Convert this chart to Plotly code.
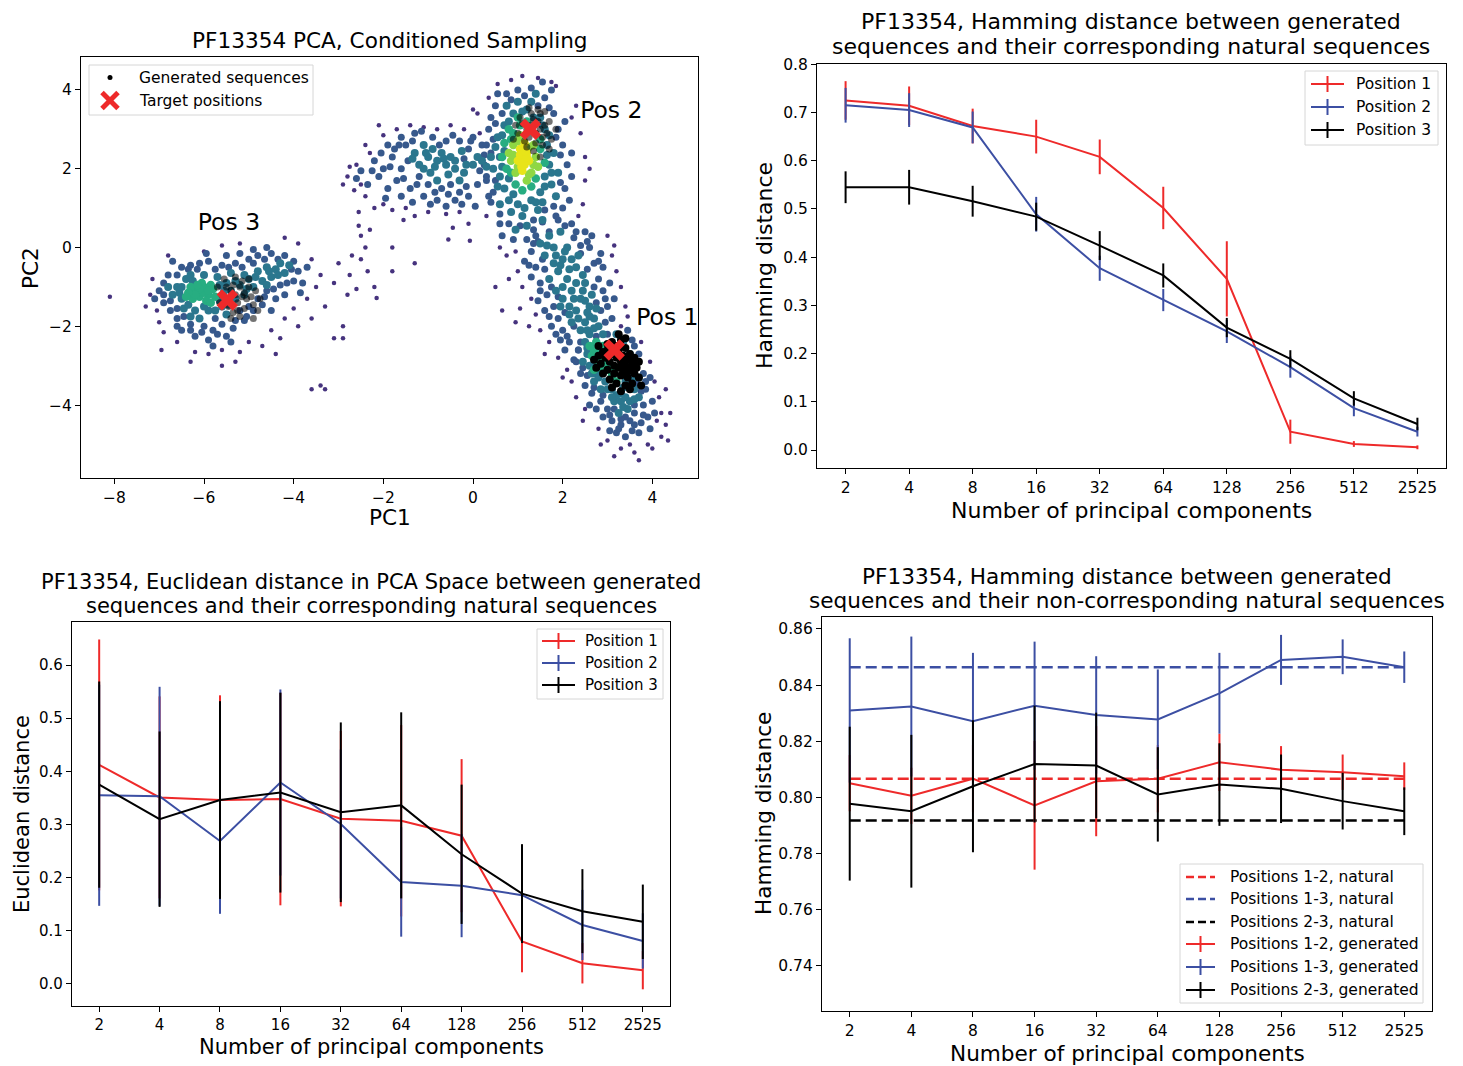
import plotly.graph_objects as go

FONT = "DejaVu Sans"
W, H = 1463, 1066
OFF = 8                      # browser body margin compensation
FW, FH = W - OFF, H - OFF    # figure size in px

# ------------------------------------------------------------------ DATA
npc_labels = ["2", "4", "8", "16", "32", "64", "128", "256", "512", "2525"]

# Hamming distance, generated vs corresponding natural sequences
ham_corr_p1 = [0.725, 0.714, 0.672, 0.650, 0.608, 0.502, 0.355, 0.038, 0.0125, 0.0056]
ham_corr_p1_err = [0.040, 0.040, 0.036, 0.035, 0.036, 0.044, 0.078, 0.025, 0.006, 0.004]
ham_corr_p2 = [0.715, 0.705, 0.669, 0.489, 0.377, 0.311, 0.246, 0.172, 0.087, 0.038]
ham_corr_p2_err = [0.036, 0.035, 0.033, 0.036, 0.026, 0.023, 0.024, 0.022, 0.017, 0.010]
ham_corr_p3 = [0.545, 0.545, 0.516, 0.484, 0.424, 0.362, 0.254, 0.189, 0.107, 0.054]
ham_corr_p3_err = [0.033, 0.036, 0.032, 0.029, 0.030, 0.025, 0.020, 0.018, 0.015, 0.013]

# Euclidean distance in PCA space
euc_p1 = [0.412, 0.351, 0.346, 0.348, 0.311, 0.307, 0.279, 0.080, 0.039, 0.026]
euc_p1_err = [0.236, 0.190, 0.197, 0.200, 0.165, 0.180, 0.144, 0.058, 0.038, 0.036]
euc_p2 = [0.355, 0.353, 0.269, 0.379, 0.301, 0.192, 0.185, 0.167, 0.111, 0.081]
euc_p2_err = [0.208, 0.206, 0.137, 0.175, 0.140, 0.103, 0.097, 0.080, 0.066, 0.052]
euc_p3 = [0.375, 0.310, 0.346, 0.360, 0.323, 0.336, 0.244, 0.170, 0.137, 0.117]
euc_p3_err = [0.194, 0.165, 0.186, 0.188, 0.169, 0.175, 0.131, 0.093, 0.079, 0.070]

# Hamming distance, generated vs non-corresponding natural sequences
ham_nat_12 = 0.8067
ham_nat_13 = 0.8464
ham_nat_23 = 0.7918
ham_gen_12 = [0.8051, 0.8006, 0.8067, 0.7972, 0.8058, 0.8067, 0.8125, 0.8099, 0.8090, 0.8076]
ham_gen_12_err = [0.010, 0.010, 0.012, 0.0229, 0.0196, 0.012, 0.0102, 0.0084, 0.0063, 0.0049]
ham_gen_13 = [0.8310, 0.8324, 0.8272, 0.8327, 0.8294, 0.8278, 0.8371, 0.8490, 0.8501, 0.8464]
ham_gen_13_err = [0.0257, 0.0249, 0.0243, 0.0228, 0.0209, 0.0178, 0.0144, 0.0089, 0.0062, 0.0056]
ham_gen_23 = [0.7978, 0.7951, 0.8040, 0.8119, 0.8114, 0.8011, 0.8046, 0.8031, 0.7987, 0.7951]
ham_gen_23_err = [0.0274, 0.0272, 0.0235, 0.0208, 0.0188, 0.0168, 0.0147, 0.0122, 0.0101, 0.0085]

# PCA scatter (PC1,PC2) of natural sequences, grouped by estimated density level
pca_lvl0 = (
    "-8.1,-1.25 -7.2,-1.2 -7.15,-0.8 -7.05,-1.6 -7.0,-1.9 -6.9,-2.15 -6.6,-2.4 -6.2,-2.65 -5.9,-2.7 "
    "-5.6,-2.6 -5.2,-2.65 -5.0,-2.4 -4.7,-2.5 -4.5,-2.1 -4.2,-1.8 -4.0,-1.55 -3.7,-1.3 -3.6,-1.8 "
    "-3.9,-2.0 -3.5,-1.0 -3.6,-0.3 -3.9,0.1 -4.2,0.25 -5.2,0.1 -5.6,0.05 -6.0,-0.1 -6.8,-0.2 -3.4,-0.7 "
    "-3.3,-1.5 -3.1,-2.3 -2.9,-2.0 -3.1,-0.9 -3.0,-0.4 -2.8,-1.2 -2.9,-2.3 -6.3,-2.9 -5.6,-3.0 "
    "-5.3,-2.9 -7.3,-1.5 -6.95,-2.6 -4.4,-2.7 -3.6,-3.6 -3.4,-3.5 -3.3,-3.6 -4.3,-2.3 "
    "-2.5,-0.3 -2.4,0.0 -2.5,0.3 -2.3,0.45 -2.55,0.55 -2.35,-0.6 -2.2,-1.0 -2.15,-1.28 -2.6,-1.05 "
    "-1.8,-0.6 -1.8,0.0 -1.3,-0.4 -0.55,0.2 -0.07,0.17 -2.75,-0.7 -2.7,-0.2 "
    "-2.8,1.8 -2.75,2.05 -2.6,2.1 -2.5,1.6 -2.4,1.3 -2.65,1.45 -2.3,2.4 -2.2,1.0 -2.0,1.1 -1.8,0.95 "
    "-1.5,1.0 -1.3,0.8 -1.0,0.9 -0.6,0.85 -0.3,0.9 -1.7,3.0 -1.4,3.1 -1.1,3.05 -0.8,3.0 -0.5,3.1 "
    "-0.2,3.0 -2.0,2.85 -2.4,2.6 -2.55,0.9 -0.1,0.6 0.3,0.8 -2.9,1.6 -0.45,0.5 -1.55,0.7 -2.1,3.1 "
    "1.1,4.35 1.45,4.3 1.75,4.2 0.35,3.8 0.1,3.4 0.15,2.9 2.3,3.6 2.4,2.9 2.5,2.3 2.5,1.7 2.45,1.1 "
    "0.0,3.5 0.55,4.15 1.85,4.1 2.2,3.3 0.85,4.25 2.35,0.8 2.6,2.0 0.6,0.0 0.75,-0.2 "
    "0.95,-0.1 1.0,-0.6 1.1,-1.0 1.3,-1.3 1.4,-1.7 1.5,-2.1 1.7,-2.4 1.9,-2.8 2.1,-3.1 3.0,0.3 "
    "3.1,-0.2 3.2,-0.6 3.3,-1.0 3.4,-1.5 3.3,-2.0 0.5,-1.0 0.8,-0.8 1.05,-1.55 1.25,-2.0 3.15,0.05 "
    "3.45,-1.75 0.65,-1.6 1.6,-2.7 2.0,-3.3 0.95,-1.9 "
    "2.5,-4.1 2.8,-4.6 3.0,-4.9 3.3,-5.1 3.6,-5.2 3.7,-5.4 4.0,-5.1 4.2,-4.8 4.35,-4.9 4.3,-4.5 "
    "4.2,-4.2 4.15,-3.8 4.05,-3.4 4.3,-3.6 3.95,-2.9 3.75,-2.4 2.2,-3.4 2.45,-4.4 2.85,-5.0 3.5,-5.0 "
    "3.9,-5.0 4.1,-4.4 2.3,-3.8 3.15,-5.3 4.4,-4.2"
)
pca_lvl1 = (
    "-7.0,-1.1 -6.9,-1.4 -6.8,-0.7 -6.9,-0.9 -6.75,-1.6 -6.6,-1.8 -6.5,-0.5 -6.3,-0.45 -6.1,-0.4 "
    "-5.9,-0.35 -5.6,-0.45 -5.3,-0.4 -5.0,-0.3 -4.8,-0.2 -4.5,-0.15 -4.2,-0.2 -4.0,-0.35 -3.9,-0.6 "
    "-4.0,-0.85 -4.3,-0.95 -4.6,-1.1 -4.8,-1.3 -5.0,-1.5 -5.2,-1.6 -5.3,-1.85 -5.6,-1.95 -5.8,-2.1 "
    "-6.0,-2.0 -6.3,-1.95 -6.5,-2.1 -5.5,-2.25 -5.9,-2.35 -6.2,-2.25 -4.4,-1.3 -4.2,-1.2 -3.8,-0.9 "
    "-3.7,-0.5 -4.6,0.0 -4.9,-0.05 -5.2,-0.15 -5.5,-0.2 -6.7,-0.35 -7.1,-1.3 -5.1,-1.85 -4.5,-1.6 "
    "-3.85,-1.15 -5.75,-1.8 -6.45,-1.75 -4.7,-1.45 -5.95,-0.15 "
    "-6.9,-1.2 -6.75,-1.35 -6.6,-1.55 -6.6,-0.7 -6.35,-0.55 -6.15,-0.55 -5.75,-0.55 -5.45,-0.5 "
    "-5.15,-0.5 -4.9,-0.4 -4.65,-0.3 -4.35,-0.3 -4.05,-0.55 -4.15,-0.9 -4.45,-1.05 -4.65,-1.25 "
    "-4.9,-1.6 -5.05,-1.75 -5.35,-2.05 -5.7,-2.2 -6.05,-2.15 -6.3,-2.1 -6.6,-2.0 -5.8,-2.5 -5.4,-2.4 "
    "-1.8,2.3 -1.6,2.0 -1.5,2.6 -1.7,1.7 -1.4,1.5 -1.2,1.8 -1.0,1.6 -0.7,1.5 -0.5,1.6 -0.3,1.4 "
    "0.1,1.6 0.3,1.8 0.4,2.4 0.2,2.6 -0.1,2.5 -0.3,2.7 -0.6,2.7 -0.9,2.8 -1.3,2.9 -1.6,2.8 -1.9,2.6 "
    "-2.0,2.0 -2.1,1.8 -1.9,1.5 -1.6,1.3 -1.1,1.3 -0.8,1.2 -0.4,1.2 -0.1,1.3 0.0,2.8 -0.2,2.25 "
    "-1.45,2.2 -2.2,2.2 -2.35,1.6 0.35,1.3 "
    "-1.75,2.5 -1.55,1.75 -1.35,2.7 -1.25,1.6 -0.85,1.4 -0.55,1.35 -0.15,1.55 0.15,1.95 0.25,2.35 "
    "-0.05,2.7 -0.45,2.85 -0.75,2.6 -1.15,2.95 -1.85,2.05 -2.05,2.4 -2.25,1.95 -1.95,1.25 -1.35,1.15 "
    "-0.95,1.1 -0.6,1.05 -0.25,1.1 0.05,1.05 -1.65,2.6 -2.5,1.95 -2.6,1.75 "
    "0.3,2.6 0.35,3.0 0.4,3.3 0.5,3.6 0.75,3.9 1.0,4.0 1.3,4.05 1.6,3.8 1.8,3.4 1.9,3.0 2.0,2.6 "
    "2.1,2.1 2.05,1.5 2.0,1.0 1.7,0.4 1.4,0.3 0.9,0.2 0.6,0.6 0.45,1.4 0.3,1.7 0.25,2.1 2.2,2.4 "
    "2.15,1.2 1.9,0.7 0.55,3.9 1.75,4.0 2.05,3.2 0.65,0.3 2.2,1.8 1.55,4.2 "
    "0.45,2.75 0.5,3.15 0.65,3.4 0.85,3.75 1.15,3.85 1.45,3.6 1.7,3.55 1.85,2.8 1.95,2.35 1.95,1.65 "
    "1.8,1.05 1.6,0.95 1.35,0.7 1.05,0.55 0.8,0.6 0.6,0.85 0.5,1.7 0.4,1.15 "
    "1.2,0.2 1.3,-0.1 1.4,-0.5 1.5,-0.9 1.65,-1.2 1.8,-1.5 1.9,-1.8 2.0,-2.1 2.15,-2.4 2.35,-2.6 "
    "2.5,0.4 2.6,0.0 2.7,-0.4 2.8,-0.8 2.9,-1.1 3.0,-1.5 3.1,-1.8 3.0,-2.2 2.55,0.15 1.35,0.45 "
    "2.2,0.6 1.85,0.8 2.75,-1.4 1.6,-1.6 2.05,-2.6 2.85,-0.15 1.15,-0.35 3.05,-0.9 1.75,-2.0 "
    "2.95,-1.9 2.25,0.25 1.55,-0.3 2.4,0.05 2.25,-2.85 1.45,-1.35 2.65,-2.5 1.95,-2.35 3.15,-1.3 "
    "2.9,-0.5 1.3,-0.75 "
    "1.45,0.15 1.6,-0.55 1.75,-1.0 1.9,-1.25 2.05,-1.65 2.25,-2.0 2.4,-2.4 2.75,-2.25 2.85,-1.6 "
    "2.7,-1.0 2.55,-0.55 2.4,-0.15 2.3,0.4 2.05,0.55 1.55,0.65 1.35,0.1 1.25,-0.45 1.5,-1.1 1.7,-1.75 "
    "1.85,-2.2 2.1,-2.25 2.95,-1.3 2.8,-0.35 2.65,0.3 "
    "2.4,-3.2 2.5,-3.5 2.65,-3.7 2.85,-3.9 3.0,-4.1 3.1,-4.4 3.3,-4.5 3.5,-4.4 3.6,-4.2 3.8,-4.0 "
    "3.85,-3.6 3.8,-3.2 3.7,-2.9 3.6,-2.5 3.45,-2.1 3.9,-4.3 3.95,-4.6 3.7,-4.7 3.4,-4.8 3.2,-4.7 "
    "2.9,-4.3 2.3,-2.9 2.35,-2.6 3.75,-4.45 3.55,-4.65 4.0,-3.9 3.95,-3.3 2.6,-4.0 3.05,-4.65 4.05,-4.2 "
    "2.45,-3.05 2.55,-3.25 2.7,-3.55 2.9,-3.75 3.15,-4.1 3.4,-4.3 3.6,-4.0 3.75,-3.65 3.85,-3.4 "
    "3.65,-3.45 3.8,-4.25 3.3,-4.35 3.05,-4.25 3.55,-2.35 3.7,-2.7 2.75,-4.1 3.25,-4.6 3.6,-4.5"
)
pca_lvl2 = (
    "-6.6,-1.0 -6.5,-1.3 -6.4,-0.8 -6.7,-1.2 -5.5,-0.9 -5.4,-1.1 -5.6,-1.5 -5.9,-1.6 -6.2,-1.6 "
    "-6.45,-1.55 -5.7,-0.75 -6.0,-0.7 -6.3,-0.7 -5.3,-1.3 -5.2,-0.95 -5.0,-0.8 -4.8,-0.6 -4.6,-0.5 "
    "-4.4,-0.55 -4.5,-0.75 -4.3,-0.4 -4.7,-0.85 -5.1,-1.2 -5.5,-1.7 -6.1,-1.8 -6.8,-1.0 -5.4,-0.65 "
    "-4.9,-1.0 -4.2,-0.65 -4.1,-0.45 "
    "-6.55,-1.15 -6.35,-1.45 -6.25,-0.85 -5.65,-1.35 -5.55,-1.1 -5.65,-0.95 -6.0,-1.5 -5.75,-1.6 "
    "-6.3,-1.75 -5.3,-0.85 -5.1,-0.7 -4.85,-0.75 -4.55,-0.6 -4.35,-0.7 -4.6,-0.95 -5.05,-1.05 "
    "-5.45,-1.45 -6.5,-1.0 "
    "-1.0,2.3 -0.8,2.2 -0.6,2.1 -0.9,2.5 -1.2,2.1 -0.4,2.0 -0.2,1.9 -0.7,2.4 -1.1,2.6 -0.5,2.3 "
    "0.0,2.1 0.2,2.2 -1.3,2.4 -0.3,1.7 -0.95,1.9 "
    "-1.1,2.0 -0.85,2.05 -0.65,2.25 -0.4,2.2 -0.15,2.1 0.1,2.3 -0.55,1.85 -0.8,1.7 -1.35,2.25 "
    "-1.05,2.4 -0.25,2.45 0.3,2.05 "
    "0.6,2.3 0.55,2.8 0.6,1.8 0.7,1.5 0.8,1.2 1.0,1.1 1.3,1.2 1.5,1.4 1.6,1.8 1.7,2.1 1.65,2.6 "
    "1.6,3.0 1.5,3.3 1.2,3.5 0.9,3.4 0.7,3.1 0.5,2.55 0.45,2.0 1.8,2.4 1.75,1.6 1.45,0.95 1.1,0.8 "
    "0.85,0.9 1.3,3.7 0.75,3.6 1.7,2.85 0.6,1.1 1.55,0.7 1.9,1.9 0.4,2.3 1.0,3.7 1.85,1.3 1.2,0.55 "
    "0.95,0.45 1.4,3.9 "
    "0.65,2.05 0.7,2.45 0.65,2.85 0.8,3.2 1.1,3.45 1.35,3.3 1.55,3.1 1.65,2.35 1.75,1.9 1.6,1.55 "
    "1.4,1.15 1.15,1.0 0.9,1.35 0.55,1.55 0.8,1.75 1.55,1.15 "
    "1.7,0.3 1.8,0.0 1.6,-0.2 2.0,-0.3 1.9,-0.6 2.1,-0.8 2.3,-0.5 2.2,-1.1 2.0,-1.3 2.4,-1.3 "
    "2.3,-1.6 2.6,-1.5 2.5,-1.9 2.7,-1.8 2.4,-2.1 2.6,-2.2 1.5,0.1 2.1,0.0 1.8,-0.4 2.5,-0.9 "
    "2.2,-1.9 2.8,-2.0 1.95,0.4 2.35,-0.2 2.15,-1.5 2.65,-1.2 1.7,-0.8 2.45,-0.7 2.0,-1.0 2.55,-1.65 "
    "1.65,0.05 1.85,-0.2 1.95,-0.45 2.15,-0.55 2.2,-0.3 2.05,-0.1 2.3,-0.9 2.25,-1.3 2.45,-1.1 "
    "2.35,-1.8 2.6,-1.75 2.55,-2.1 2.7,-2.05 2.15,-1.7 1.85,-1.1 1.95,-1.5 2.5,-1.35 2.75,-1.55 "
    "2.5,-2.4 2.55,-2.7 2.6,-3.0 2.75,-3.2 2.95,-3.4 3.1,-3.6 3.3,-3.7 3.4,-3.4 3.5,-3.2 3.6,-3.0 "
    "3.5,-2.7 3.35,-2.4 3.2,-2.2 2.9,-2.2 3.3,-3.9 3.5,-3.9 3.15,-3.9 3.6,-3.6 2.45,-2.9 2.7,-3.4 "
    "3.45,-4.1 3.7,-3.8 2.85,-3.6 3.25,-4.2 3.7,-3.3 "
    "2.55,-2.55 2.7,-2.95 2.8,-3.3 3.0,-3.6 3.2,-3.75 3.4,-3.8 3.55,-3.35 3.35,-3.55 2.65,-3.2 "
    "3.6,-3.85 3.35,-4.05 3.1,-3.8"
)
pca_lvl3 = (
    "-6.2,-1.1 -6.0,-1.0 -5.9,-1.2 -6.1,-1.25 -5.8,-1.05 -6.3,-1.0 -6.05,-0.9 -5.95,-1.35 "
    "-6.25,-1.3 -5.75,-1.25 -6.15,-1.15 -5.85,-0.95 "
    "-6.0,-1.15 -6.1,-1.05 -5.9,-1.1 -6.2,-1.2 -6.35,-1.15 -5.85,-1.4 -6.15,-0.95 -6.4,-1.25 "
    "0.9,2.9 0.95,1.6 1.05,3.1 0.75,2.0 1.3,1.55 0.85,2.75 1.5,2.5 1.1,1.45 0.7,2.65 1.0,3.3 "
    "0.85,1.9 1.4,1.75 1.5,2.75 0.8,3.0 1.2,3.2 0.65,2.3 1.6,2.15 "
    "2.7,-2.6 2.8,-2.8 2.9,-2.5 2.75,-2.4 2.95,-2.9 3.0,-3.1 2.85,-3.05 2.65,-2.75 3.1,-3.25 "
    "2.6,-2.5 3.05,-2.7 3.2,-3.4 "
    "2.75,-2.7 2.85,-2.55 2.9,-2.95 2.95,-2.65 3.05,-3.0 2.8,-2.9 2.7,-3.1 3.15,-3.1"
)
pca_lvl4 = (
    "0.9,2.6 0.85,2.2 0.95,1.9 1.3,1.9 1.4,2.3 1.35,2.6 1.05,2.85 1.2,1.7 0.8,2.4 1.45,2.05 "
    "1.0,2.05 1.25,2.55 1.35,2.1 1.0,2.7 0.9,2.35 1.25,1.85"
)
pca_lvl5 = "1.1,2.3 1.15,2.1 1.05,2.5 1.2,2.4 1.0,2.2 1.15,2.65 1.25,2.2 1.1,1.95 1.12,2.2 1.05,2.35 1.2,2.3 1.15,2.45 1.08,2.05"

# generated sequences (PC1,PC2) around each target
gen_pos1 = (
    "3.0,-2.6 3.1,-2.7 3.2,-2.8 3.3,-2.9 3.4,-3.0 3.25,-2.6 3.35,-2.75 3.45,-2.85 3.5,-3.1 3.15,-3.0 "
    "3.05,-2.9 2.95,-2.8 2.9,-2.65 3.2,-2.5 3.4,-2.55 3.55,-2.95 3.6,-3.2 3.45,-3.3 3.3,-3.25 "
    "3.15,-3.2 3.0,-3.1 2.85,-2.95 2.8,-2.75 3.3,-2.35 3.1,-2.4 3.5,-2.7 3.65,-3.05 3.7,-3.3 "
    "3.55,-3.45 3.4,-3.5 3.2,-3.45 3.05,-3.35 2.9,-3.2 2.75,-3.05 3.35,-3.15 3.25,-3.05 3.45,-3.15 "
    "3.6,-2.8 3.0,-2.45 3.4,-2.3 3.5,-3.6 3.3,-3.65 2.8,-2.5 3.7,-2.9 3.75,-3.5 3.1,-3.55 3.25,-2.2 2.7,-2.85"
)
gen_pos2 = (
    "1.2,3.0 1.3,3.1 1.4,2.9 1.5,3.0 1.35,3.25 1.25,2.8 1.45,3.2 1.55,2.8 1.1,3.15 1.6,3.1 1.0,2.9 "
    "1.15,2.7 1.4,2.65 1.65,2.9 1.5,3.4 1.3,3.4 1.7,3.2 1.05,3.3 1.2,2.55 1.55,2.6 0.95,3.1 1.75,2.75 "
    "1.35,2.45 1.45,3.5 1.6,3.45 1.85,3.0 1.25,3.55 0.9,2.75 1.7,2.5 1.5,2.3"
)
gen_pos3 = (
    "-5.4,-1.1 -5.3,-1.2 -5.2,-1.0 -5.1,-1.15 -5.35,-0.95 -5.5,-1.0 -5.25,-1.4 -5.05,-1.3 -5.45,-1.5 "
    "-5.15,-0.85 -5.0,-1.0 -4.95,-1.25 -5.6,-1.2 -5.35,-1.65 -5.1,-1.55 -4.9,-1.45 -5.65,-1.4 -5.0,-0.8 "
    "-5.3,-0.75 -4.85,-1.1 -5.55,-0.8 -5.2,-1.75 -4.8,-1.6 -5.7,-1.0 -4.9,-1.8 -5.4,-1.8 -5.25,-1.6 "
    "-4.75,-1.3 -5.15,-1.25 -5.45,-1.3"
)
target_pc1 = [3.15, 1.28, -5.48]
target_pc2 = [-2.6, 3.0, -1.33]
target_names = ["Pos 1", "Pos 2", "Pos 3"]
label_pc1 = [3.64, 2.39, -6.14]
label_pc2 = [-1.83, 3.43, 0.585]

# ------------------------------------------------------------------ STYLE
RED = "#ee2a2a"
BLUE = "#3c4fa3"
BLACK = "#000000"
LEVEL_COLORS = ["#46337e", "#37598c", "#2b778e", "#27ad81", "#8fd744", "#e8e419"]
LEVEL_SIZES = [4.5, 7, 8, 8.5, 8.5, 8.5]


def parse_pts(s):
    xs, ys = [], []
    for tok in s.split():
        a, b = tok.split(",")
        xs.append(float(a))
        ys.append(float(b))
    return xs, ys


def fx(p):
    return (p - OFF) / FW


def fy(p):
    return 1 - (p - OFF) / FH


fig = go.Figure()

# ---------------- Panel 1: PCA scatter
for lvl, s in enumerate([pca_lvl0, pca_lvl1, pca_lvl2, pca_lvl3, pca_lvl4, pca_lvl5]):
    xs, ys = parse_pts(s)
    fig.add_trace(go.Scatter(x=xs, y=ys, mode="markers", xaxis="x", yaxis="y",
                             marker=dict(size=LEVEL_SIZES[lvl], color=LEVEL_COLORS[lvl], line=dict(width=0)),
                             showlegend=False, hoverinfo="skip"))
for s, op, sz in [(gen_pos2, 0.55, 7), (gen_pos3, 0.55, 7), (gen_pos1, 1.0, 8)]:
    xs, ys = parse_pts(s)
    fig.add_trace(go.Scatter(x=xs, y=ys, mode="markers", xaxis="x", yaxis="y",
                             marker=dict(size=sz, color="black", opacity=op, line=dict(width=0)),
                             showlegend=False, hoverinfo="skip"))
fig.add_trace(go.Scatter(x=target_pc1, y=target_pc2, mode="markers", xaxis="x", yaxis="y",
                         marker=dict(symbol="x", size=19, color=RED, line=dict(width=0)),
                         showlegend=False, hoverinfo="skip"))
fig.add_trace(go.Scatter(x=label_pc1, y=label_pc2, mode="text", text=target_names, textposition="middle right",
                         xaxis="x", yaxis="y", textfont=dict(size=23.5, color="black", family=FONT),
                         showlegend=False, hoverinfo="skip", cliponaxis=False))


def err_trace(y, e, color, xa, ya):
    return go.Scatter(x=npc_labels, y=y, mode="lines", xaxis=xa, yaxis=ya,
                      line=dict(color=color, width=2),
                      error_y=dict(type="data", array=e, visible=True, width=0, thickness=2, color=color),
                      showlegend=False, hoverinfo="skip")


# ---------------- Panel 2
fig.add_trace(err_trace(ham_corr_p1, ham_corr_p1_err, RED, "x2", "y2"))
fig.add_trace(err_trace(ham_corr_p2, ham_corr_p2_err, BLUE, "x2", "y2"))
fig.add_trace(err_trace(ham_corr_p3, ham_corr_p3_err, BLACK, "x2", "y2"))

# ---------------- Panel 3
fig.add_trace(err_trace(euc_p1, euc_p1_err, RED, "x3", "y3"))
fig.add_trace(err_trace(euc_p2, euc_p2_err, BLUE, "x3", "y3"))
fig.add_trace(err_trace(euc_p3, euc_p3_err, BLACK, "x3", "y3"))

# ---------------- Panel 4
for val, col in [(ham_nat_12, RED), (ham_nat_13, BLUE), (ham_nat_23, BLACK)]:
    fig.add_trace(go.Scatter(x=npc_labels, y=[val] * len(npc_labels), mode="lines", xaxis="x4", yaxis="y4",
                             line=dict(color=col, width=2.5, dash="11px,5px"),
                             showlegend=False, hoverinfo="skip"))
fig.add_trace(err_trace(ham_gen_12, ham_gen_12_err, RED, "x4", "y4"))
fig.add_trace(err_trace(ham_gen_13, ham_gen_13_err, BLUE, "x4", "y4"))
fig.add_trace(err_trace(ham_gen_23, ham_gen_23_err, BLACK, "x4", "y4"))


# ------------------------------------------------------------------ AXES
def common(tsize):
    return dict(showline=True, linecolor="black", linewidth=1.2, mirror=True, ticks="outside",
                ticklen=5, tickwidth=1.2, tickcolor="black", showgrid=False, zeroline=False,
                automargin=False, tickfont=dict(size=tsize, color="black", family=FONT))


boxes = {
    1: (81, 698, 57, 478),
    2: (817, 1446, 64, 468),
    3: (72, 670, 622, 1006),
    4: (822, 1432, 617, 1011),
}


def dom(k):
    l, r, t, b = boxes[k]
    return [fx(l), fx(r)], [fy(b), fy(t)]


d1x, d1y = dom(1)
d2x, d2y = dom(2)
d3x, d3y = dom(3)
d4x, d4y = dom(4)

cat_range = [-0.45, len(npc_labels) - 1 + 0.45]

fig.update_layout(
    xaxis=dict(domain=d1x, range=[-8.744, 5.019], tickvals=[-8, -6, -4, -2, 0, 2, 4], anchor="y", **common(15.5)),
    yaxis=dict(domain=d1y, range=[-5.85, 4.835], tickvals=[-4, -2, 0, 2, 4], anchor="x", **common(15.5)),
    xaxis2=dict(domain=d2x, type="category", range=cat_range, anchor="y2", **common(15.5)),
    yaxis2=dict(domain=d2y, range=[-0.0373, 0.8006], tickvals=[0, 0.1, 0.2, 0.3, 0.4, 0.5, 0.6, 0.7, 0.8],
                tickformat=".1f", anchor="x2", **common(15.5)),
    xaxis3=dict(domain=d3x, type="category", range=cat_range, anchor="y3", **common(15)),
    yaxis3=dict(domain=d3y, range=[-0.0414, 0.6809], tickvals=[0, 0.1, 0.2, 0.3, 0.4, 0.5, 0.6],
                tickformat=".1f", anchor="x3", **common(15)),
    xaxis4=dict(domain=d4x, type="category", range=cat_range, anchor="y4", **common(15.5)),
    yaxis4=dict(domain=d4y, range=[0.72397, 0.86427], tickvals=[0.74, 0.76, 0.78, 0.80, 0.82, 0.84, 0.86],
                tickformat=".2f", anchor="x4", **common(15.5)),
)

# ------------------------------------------------------------------ TEXT
annotations = []
shapes = []


def text(px, py, s, size=20, angle=0, xanchor="center"):
    annotations.append(dict(x=fx(px), y=fy(py), xref="paper", yref="paper", text=s, showarrow=False,
                            xanchor=xanchor, yanchor="middle", textangle=angle,
                            font=dict(size=size, color="black", family=FONT)))


# titles
text(389.5, 41, "PF13354 PCA, Conditioned Sampling", 21.6)
text(1131, 21, "PF13354, Hamming distance between generated", 22)
text(1131, 46, "sequences and their corresponding natural sequences", 22)
text(371, 582, "PF13354, Euclidean distance in PCA Space between generated", 21)
text(371, 606, "sequences and their corresponding natural sequences", 21)
text(1127, 576, "PF13354, Hamming distance between generated", 21.6)
text(1127, 600, "sequences and their non-corresponding natural sequences", 21.6)
# axis labels
text(389.5, 518, "PC1", 21.6)
text(30, 268, "PC2", 21.6, angle=-90)
text(1131, 510, "Number of principal components", 22)
text(764, 266, "Hamming distance", 22, angle=-90)
text(371, 1047, "Number of principal components", 21)
text(22, 814, "Euclidean distance", 21, angle=-90)
text(1127, 1053, "Number of principal components", 21.6)
text(763, 814, "Hamming distance", 21.6, angle=-90)


# ------------------------------------------------------------------ LEGENDS
def seg(x0, y0, x1, y1, color, width=2, dash=None):
    ln = dict(color=color, width=width)
    if dash:
        ln["dash"] = dash
    shapes.append(dict(type="line", xref="paper", yref="paper", x0=fx(x0), y0=fy(y0), x1=fx(x1), y1=fy(y1),
                       line=ln, layer="above"))


def legend_box(l, t, r, b):
    shapes.append(dict(type="rect", xref="paper", yref="paper", x0=fx(l), y0=fy(b), x1=fx(r), y1=fy(t),
                       line=dict(color="#d6d6d6", width=1), fillcolor="rgba(255,255,255,0.85)", layer="above"))


# panel 1 legend
legend_box(89, 65, 313, 115)
shapes.append(dict(type="circle", xref="paper", yref="paper", x0=fx(107.5), x1=fx(112.5), y0=fy(80), y1=fy(75),
                   fillcolor="black", line=dict(width=0), layer="above"))
seg(102, 92.5, 118, 108.5, RED, 5)
seg(102, 108.5, 118, 92.5, RED, 5)
text(137, 77.5, "Generated sequences", 15.5, xanchor="left")
text(137, 100.5, "Target positions", 15.5, xanchor="left")


def err_entry(x0, x1, y, color, label, tx, fs):
    seg(x0, y, x1, y, color, 2)
    xm = (x0 + x1) / 2
    seg(xm, y - 8, xm, y + 8, color, 2)
    text(tx, y, label, fs, xanchor="left")


# panel 2 legend
legend_box(1305, 71, 1438, 145)
err_entry(1311, 1344, 84, RED, "Position 1", 1354, 15.5)
err_entry(1311, 1344, 107, BLUE, "Position 2", 1354, 15.5)
err_entry(1311, 1344, 130, BLACK, "Position 3", 1354, 15.5)

# panel 3 legend
legend_box(537, 629, 663, 699)
err_entry(542, 575, 641, RED, "Position 1", 583, 15)
err_entry(542, 575, 663, BLUE, "Position 2", 583, 15)
err_entry(542, 575, 685, BLACK, "Position 3", 583, 15)

# panel 4 legend
legend_box(1180, 864, 1423, 1003)
for y, col, lab in [(877, RED, "Positions 1-2, natural"), (899, BLUE, "Positions 1-3, natural"),
                    (922, BLACK, "Positions 2-3, natural")]:
    seg(1186, y, 1215, y, col, 2.5, "8px,4px")
    text(1228, y, lab, 15.5, xanchor="left")
err_entry(1186, 1215, 944, RED, "Positions 1-2, generated", 1228, 15.5)
err_entry(1186, 1215, 967, BLUE, "Positions 1-3, generated", 1228, 15.5)
err_entry(1186, 1215, 990, BLACK, "Positions 2-3, generated", 1228, 15.5)

fig.update_layout(
    width=FW, height=FH, margin=dict(l=0, r=0, t=0, b=0),
    paper_bgcolor="white", plot_bgcolor="rgba(0,0,0,0)",
    font=dict(family=FONT, color="black"),
    showlegend=False, annotations=annotations, shapes=shapes,
)

fig.write_html("out.html")
